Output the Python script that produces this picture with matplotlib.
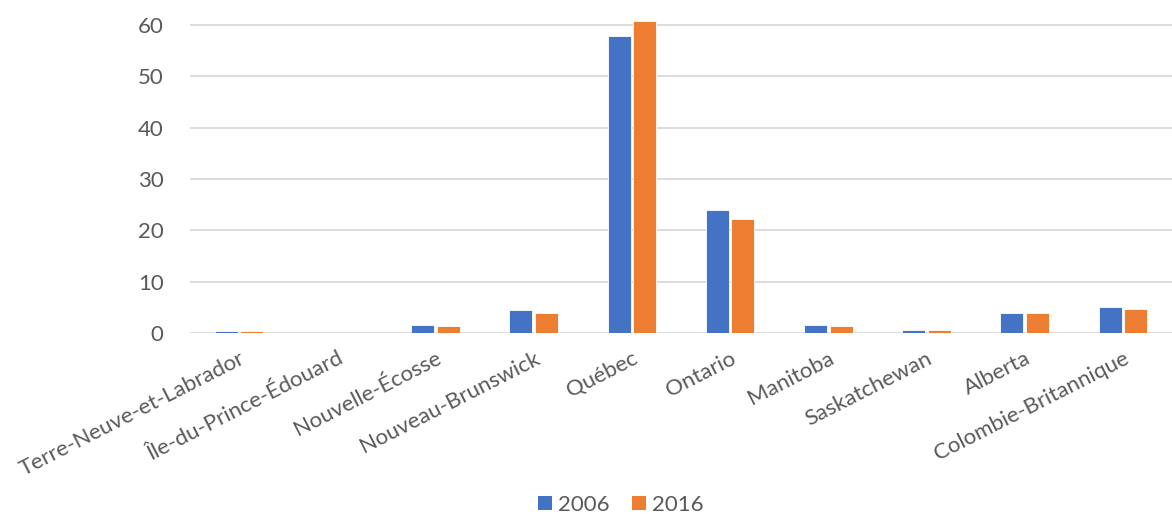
import matplotlib
matplotlib.use("Agg")
import matplotlib.pyplot as plt
import numpy as np
from matplotlib.patches import Patch

provinces = ["Terre-Neuve-et-Labrador", "Île-du-Prince-Édouard", "Nouvelle-Écosse",
             "Nouveau-Brunswick", "Québec", "Ontario", "Manitoba", "Saskatchewan",
             "Alberta", "Colombie-Britannique"]
v2006 = [0.4, 0.0, 1.6, 4.4, 57.8, 23.9, 1.6, 0.55, 3.9, 5.1]
v2016 = [0.4, 0.0, 1.3, 3.9, 60.7, 22.2, 1.3, 0.5, 3.9, 4.6]
series_labels = ["2006", "2016"]
yticks = [0, 10, 20, 30, 40, 50, 60]

plt.rcParams['font.family'] = ['Lato', 'DejaVu Sans']
txt = '#595959'

fig = plt.figure(figsize=(11.72, 5.14), dpi=100)
ax = fig.add_axes([190/1172, 1-333/514, 1-190/1172, 333/514])

x = np.arange(len(provinces))
w = 0.235
off = 0.26
ax.bar(x - off/2, v2006, width=w, color='#4472C4', edgecolor='white', linewidth=0.6, zorder=3)
ax.bar(x + off/2, v2016, width=w, color='#ED7D31', edgecolor='white', linewidth=0.6, zorder=3)

ax.set_xlim(-0.5, len(provinces) - 0.5)
ax.set_ylim(0, 333/308*60)
ax.set_yticks(yticks)
ax.set_yticklabels([str(t) for t in yticks], fontsize=16, color=txt)
ax.yaxis.grid(True, color='#d9d9d9', linewidth=1.3, zorder=0)
for s in ax.spines.values():
    s.set_visible(False)
ax.tick_params(axis='y', length=0, pad=19)
ax.tick_params(axis='x', length=0, pad=11)
ax.set_xticks(x)
ax.set_xticklabels(provinces, rotation=27, ha='right', rotation_mode='anchor',
                   fontsize=16, color=txt)

handles = [Patch(facecolor='#4472C4'), Patch(facecolor='#ED7D31')]
fig.legend(handles, series_labels, loc='lower center', bbox_to_anchor=(0.53, -0.04),
           ncol=2, frameon=False, fontsize=16, labelcolor=txt,
           handlelength=0.6, handleheight=0.6, handletextpad=0.3, columnspacing=1.0)

fig.savefig("out.png", dpi=100)
